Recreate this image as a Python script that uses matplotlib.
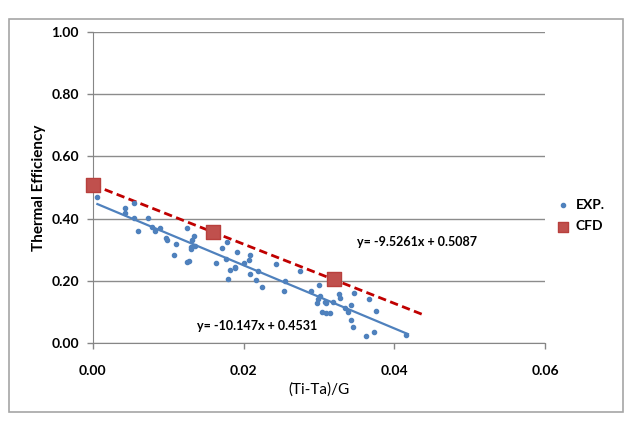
import matplotlib
matplotlib.use("Agg")
import matplotlib.pyplot as plt
from matplotlib.patches import Rectangle
import numpy as np

exp_x = [0.0006, 0.0043, 0.0054, 0.0042, 0.0054, 0.0073, 0.0060, 0.0079, 0.0083, 0.0089,
         0.0097, 0.0098, 0.0125, 0.0134, 0.0132, 0.0110, 0.0130, 0.0130, 0.0136, 0.0108,
         0.0125, 0.0127, 0.0178, 0.0171, 0.0191, 0.0208, 0.0207, 0.0200, 0.0164, 0.0177,
         0.0182, 0.0189, 0.0189, 0.0209, 0.0219, 0.0179, 0.0216, 0.0224, 0.0243, 0.0255,
         0.0254, 0.0275, 0.0300, 0.0289, 0.0302, 0.0299, 0.0298, 0.0308, 0.0309, 0.0319,
         0.0327, 0.0328, 0.0346, 0.0343, 0.0335, 0.0339, 0.0304, 0.0309, 0.0314, 0.0366,
         0.0376, 0.0342, 0.0345, 0.0362, 0.0373, 0.0416]
exp_y = [0.470, 0.434, 0.449, 0.417, 0.403, 0.403, 0.360, 0.374, 0.361, 0.369,
         0.337, 0.331, 0.371, 0.344, 0.331, 0.318, 0.310, 0.302, 0.313, 0.283,
         0.261, 0.264, 0.324, 0.305, 0.294, 0.283, 0.267, 0.256, 0.258, 0.269,
         0.235, 0.245, 0.240, 0.222, 0.232, 0.206, 0.203, 0.181, 0.254, 0.200,
         0.168, 0.232, 0.186, 0.168, 0.152, 0.141, 0.128, 0.133, 0.128, 0.131,
         0.157, 0.146, 0.160, 0.122, 0.112, 0.099, 0.101, 0.097, 0.097, 0.141,
         0.104, 0.074, 0.052, 0.023, 0.036, 0.027]

cfd_x = [0.0, 0.016, 0.032]
cfd_y = [0.509, 0.357, 0.206]

# trendline coefficients shown on the chart
exp_slope, exp_icept = -10.147, 0.4531
cfd_slope, cfd_icept = -9.5261, 0.5087
exp_fit_range = [0.0006, 0.0418]
cfd_fit_range = [0.0, 0.0441]

blue = "#4f81bd"
red = "#c0504d"
font = "Lato"

fig = plt.figure(figsize=(6.36, 4.22), dpi=100)
ax = fig.add_axes([0.146, 0.187, 0.711, 0.737])

# outer chart border
fig.patches.append(Rectangle((9 / 636, 1 - 412 / 422), 614 / 636, 393 / 422,
                             transform=fig.transFigure, fill=False,
                             edgecolor="#a6a6a6", linewidth=1.2))

xf = np.array(exp_fit_range)
ax.plot(xf, exp_slope * xf + exp_icept, color=blue, linewidth=1.6, zorder=2)
xc = np.array(cfd_fit_range)
ax.plot(xc, cfd_slope * xc + cfd_icept, color="#c00000", linewidth=2,
        linestyle=(0, (3, 1.6)), zorder=2)

ax.scatter(exp_x, exp_y, s=9, color=blue, zorder=3, label="EXP.")
ax.scatter(cfd_x, cfd_y, s=110, marker="s", color=red, edgecolors="#b8403d",
           zorder=4, label="CFD", clip_on=False)

ax.set_xlim(0, 0.06)
ax.set_ylim(0, 1.0)
ax.set_xticks([0, 0.02, 0.04, 0.06])
ax.set_yticks(np.arange(0, 1.01, 0.2))
ax.set_xticklabels(["0.00", "0.02", "0.04", "0.06"])
ax.set_yticklabels([f"{v:.2f}" for v in np.arange(0, 1.01, 0.2)])
ax.yaxis.grid(True, color="#8c8c8c", linewidth=1)
ax.set_axisbelow(True)
for s in ["top", "right"]:
    ax.spines[s].set_visible(False)
for s in ["left", "bottom"]:
    ax.spines[s].set_color("#868686")
ax.tick_params(axis="both", colors="#868686", length=4, width=1,
               labelcolor="black", labelsize=10)
ax.tick_params(axis="x", pad=12)
ax.tick_params(axis="y", pad=6)
for lab in ax.get_xticklabels() + ax.get_yticklabels():
    lab.set_fontfamily(font)
    lab.set_fontweight("bold")

ax.set_xlabel("(Ti-Ta)/G", fontsize=11, family=font, labelpad=4)
ax.set_ylabel("Thermal Efficiency", fontsize=11, family=font,
              fontweight="bold", labelpad=4)

ax.text(0.0138, 0.055, "y= -10.147x + 0.4531", fontsize=9, family=font,
        fontweight="bold", ha="left", va="center")
ax.text(0.0350, 0.325, "y= -9.5261x + 0.5087", fontsize=9, family=font,
        fontweight="bold", ha="left", va="center")

leg = ax.legend(loc="center left", bbox_to_anchor=(1.0, 0.41), frameon=False,
                handlelength=0.8, handletextpad=0.5, labelspacing=0.7,
                prop={"family": font, "weight": "bold", "size": 10})
leg.legend_handles[0].set_sizes([9])
leg.legend_handles[1].set_sizes([45])

fig.savefig("out.png", dpi=100)
